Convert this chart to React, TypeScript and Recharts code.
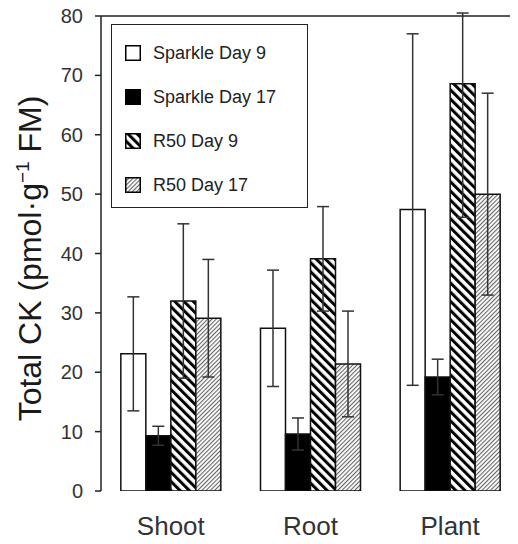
import { BarChart, Bar, XAxis, YAxis, ErrorBar } from "recharts";

const categories = ["Shoot", "Root", "Plant"];

const sparkleDay9 = [23.1, 27.4, 47.4];
const sparkleDay9Err = [9.6, 9.8, 29.6];
const sparkleDay17 = [9.3, 9.6, 19.2];
const sparkleDay17Err = [1.6, 2.7, 3.0];
const r50Day9 = [32.0, 39.1, 68.6];
const r50Day9ErrLow = [13.0, 8.8, 22.5];
// the Plant bar runs off the top of the frame, only the visible part is kept
const r50Day9ErrHigh = [13.0, 8.8, 11.9];
const r50Day17 = [29.1, 21.4, 50.0];
const r50Day17Err = [9.9, 8.9, 17.0];

const seriesNames = ["Sparkle Day 9", "Sparkle Day 17", "R50 Day 9", "R50 Day 17"];
const yTicks = [0, 10, 20, 30, 40, 50, 60, 70, 80];
const edgeTicks = [0, 1, 2, 3];

const data = categories.map((name, i) => ({
  name,
  sd9: sparkleDay9[i],
  sd9Err: sparkleDay9Err[i],
  sd17: sparkleDay17[i],
  sd17Err: sparkleDay17Err[i],
  r9: r50Day9[i],
  r9Err: [r50Day9ErrLow[i], r50Day9ErrHigh[i]],
  r17: r50Day17[i],
  r17Err: r50Day17Err[i],
}));

const FONT = '"Liberation Sans", Arial, sans-serif';
const INK = "#222";

const SERIES = [
  { key: "sd9", label: seriesNames[0], fill: "#fff" },
  { key: "sd17", label: seriesNames[1], fill: "#000" },
  { key: "r9", label: seriesNames[2], fill: "url(#hatchBold)" },
  { key: "r17", label: seriesNames[3], fill: "url(#hatchFine)" },
];

function YTitle(props: any) {
  const { viewBox } = props;
  const cx = viewBox.x + 33;
  const cy = viewBox.y + viewBox.height / 2 + 5;
  return (
    <text
      x={cx}
      y={cy}
      transform={`rotate(-90, ${cx}, ${cy})`}
      textAnchor="middle"
      fontSize={32}
      fill="#1a1a1a"
      fontFamily={FONT}
    >
      Total CK (pmol·g
      <tspan dy={-12} fontSize={19}>
        {"\u22121"}
      </tspan>
      <tspan dy={12}> FM)</tspan>
    </text>
  );
}

function LegendBox() {
  return (
    <div
      style={{
        position: "absolute",
        left: 111,
        top: 24,
        width: 197,
        height: 184,
        boxSizing: "border-box",
        border: `1.5px solid ${INK}`,
        background: "#fff",
        paddingTop: 6,
        fontFamily: FONT,
        fontSize: 18,
        color: INK,
      }}
    >
      {SERIES.map((s) => (
        <div
          key={s.key}
          style={{ display: "flex", alignItems: "center", height: 44, paddingLeft: 13 }}
        >
          <svg width={16} height={16} style={{ display: "block" }}>
            <rect
              x={0.75}
              y={0.75}
              width={14.5}
              height={14.5}
              fill={s.fill}
              stroke="#000"
              strokeWidth={1.5}
            />
          </svg>
          <span style={{ marginLeft: 12 }}>{s.label}</span>
        </div>
      ))}
    </div>
  );
}

export default function App() {
  return (
    <div
      style={{
        position: "relative",
        width: 518,
        height: 544,
        margin: "-8px 0 -8px -8px",
        overflow: "hidden",
        fontFamily: FONT,
      }}
    >
      <BarChart
        width={520}
        height={544}
        data={data}
        margin={{ top: 15, right: 0, bottom: 0, left: 8 }}
        barCategoryGap="14.2%"
        barGap={0}
      >
        <defs>
          <pattern
            id="hatchBold"
            patternUnits="userSpaceOnUse"
            width={6.5}
            height={6.5}
            patternTransform="rotate(-45)"
          >
            <rect width={6.5} height={6.5} fill="#fff" />
            <rect width={3} height={6.5} fill="#000" />
          </pattern>
          <pattern
            id="hatchFine"
            patternUnits="userSpaceOnUse"
            width={3}
            height={3}
            patternTransform="rotate(45)"
          >
            <rect width={3} height={3} fill="#fff" />
            <rect width={1.1} height={3} fill="#666" />
          </pattern>
        </defs>

        <XAxis
          xAxisId="edges"
          type="number"
          domain={[0, 3]}
          ticks={edgeTicks}
          allowDataOverflow
          interval={0}
          height={1}
          tick={false}
          tickSize={7}
          axisLine={{ stroke: INK, strokeWidth: 1.5 }}
          tickLine={{ stroke: INK, strokeWidth: 1.5 }}
        />
        <XAxis
          xAxisId="cat"
          dataKey="name"
          height={52}
          axisLine={false}
          tickLine={false}
          tickSize={6}
          tickMargin={20}
          tick={{ fontSize: 26, fill: "#333", fontFamily: FONT }}
        />
        <XAxis
          xAxisId="top"
          orientation="top"
          type="number"
          domain={[0, 3]}
          allowDataOverflow
          height={1}
          tick={false}
          tickLine={false}
          axisLine={{ stroke: INK, strokeWidth: 1.5 }}
        />
        <YAxis
          width={93}
          domain={[0, 80]}
          ticks={yTicks}
          allowDataOverflow
          interval={0}
          tickSize={6}
          tickMargin={12}
          axisLine={{ stroke: INK, strokeWidth: 1.5 }}
          tickLine={{ stroke: INK, strokeWidth: 1.5 }}
          tick={{ fontSize: 20, fill: "#333", fontFamily: FONT }}
          label={YTitle}
        />

        {SERIES.map((s) => (
          <Bar
            key={s.key}
            xAxisId="cat"
            dataKey={s.key}
            name={s.label}
            fill={s.fill}
            stroke="#111"
            strokeWidth={1.5}
            isAnimationActive={false}
          >
            <ErrorBar
              dataKey={`${s.key}Err`}
              direction="y"
              width={6}
              stroke="#333"
              strokeWidth={1.5}
              isAnimationActive={false}
            />
          </Bar>
        ))}
      </BarChart>
      <LegendBox />
    </div>
  );
}
